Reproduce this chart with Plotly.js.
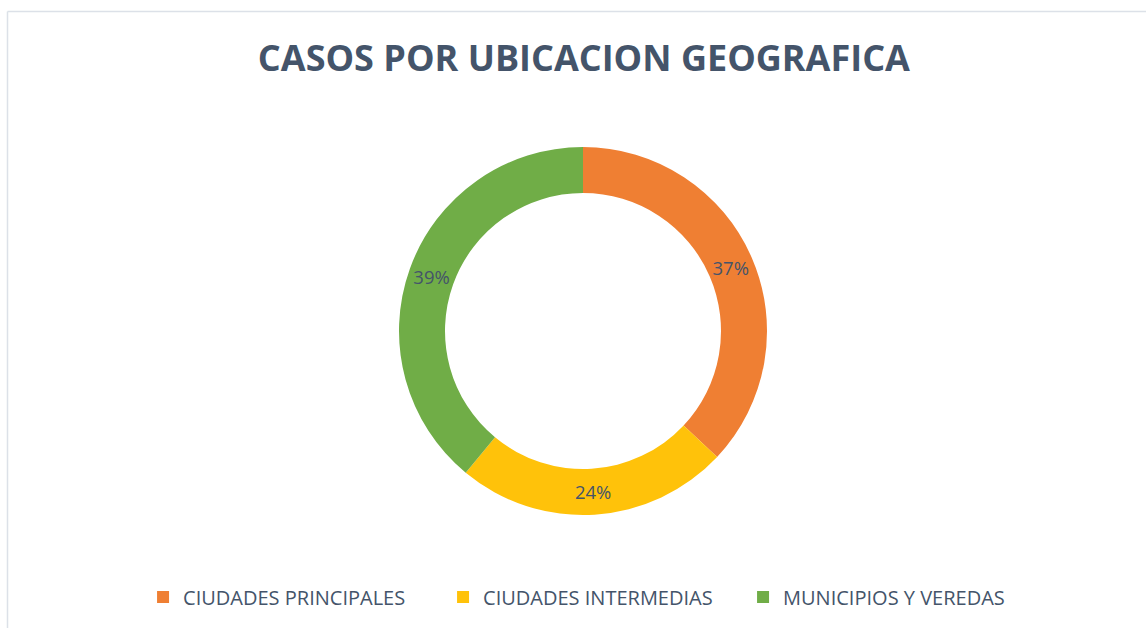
<!DOCTYPE html>
<html>
<head>
<meta charset="utf-8">
<script src="https://cdn.plot.ly/plotly-3.0.1.min.js"></script>
<style>
  html, body { margin: 0; padding: 0; background: #ffffff; }
  #chart { width: 1146px; height: 628px; }
</style>
</head>
<body>
<div id="chart"></div>
<script>
// Data
const categories = ["CIUDADES PRINCIPALES", "CIUDADES INTERMEDIAS", "MUNICIPIOS Y VEREDAS"];
const shares = [37, 24, 39];
const sliceColors = ["#EF7F33", "#FFC20A", "#70AD47"];
const chartTitle = "CASOS POR UBICACION GEOGRAFICA";

const textColor = "#44546A";

const trace = {
  type: "pie",
  labels: categories,
  values: shares,
  hole: 0.75,
  sort: false,
  direction: "clockwise",
  rotation: 0,
  marker: { colors: sliceColors, line: { color: "#ffffff", width: 0 } },
  textinfo: "percent",
  texttemplate: "%{percent:.0%}",
  textposition: "inside",
  insidetextorientation: "horizontal",
  textfont: { family: "Open Sans, sans-serif", size: 18.5, color: textColor },
  hoverinfo: "label+percent",
  domain: { x: [399 / 1146, 767 / 1146], y: [113 / 628, 481 / 628] }
};

const layout = {
  width: 1146,
  height: 628,
  margin: { l: 0, r: 0, t: 0, b: 0 },
  paper_bgcolor: "#ffffff",
  plot_bgcolor: "#ffffff",
  title: {
    text: "<b>" + chartTitle + "</b>",
    font: { family: "Open Sans, sans-serif", size: 36, color: textColor },
    x: 0.5095,
    xanchor: "center",
    y: 1 - 58 / 628,
    yanchor: "middle"
  },
  showlegend: true,
  legend: {
    orientation: "h",
    x: 0.5175,
    xanchor: "center",
    y: 31 / 628,
    yanchor: "middle",
    font: { family: "Open Sans, sans-serif", size: 20, color: textColor },
    itemwidth: 30,
    entrywidth: 255,
    traceorder: "normal"
  },
  shapes: [
    { type: "line", xref: "paper", yref: "paper", x0: 7.5 / 1146, x1: 1, y0: 1 - 11.5 / 628, y1: 1 - 11.5 / 628,
      line: { color: "#DCE1E8", width: 1.5 } },
    { type: "line", xref: "paper", yref: "paper", x0: 7.5 / 1146, x1: 7.5 / 1146, y0: 0, y1: 1 - 11.5 / 628,
      line: { color: "#DCE1E8", width: 1.5 } }
  ]
};

Plotly.newPlot("chart", [trace], layout, { displayModeBar: false, staticPlot: true });
</script>
</body>
</html>
